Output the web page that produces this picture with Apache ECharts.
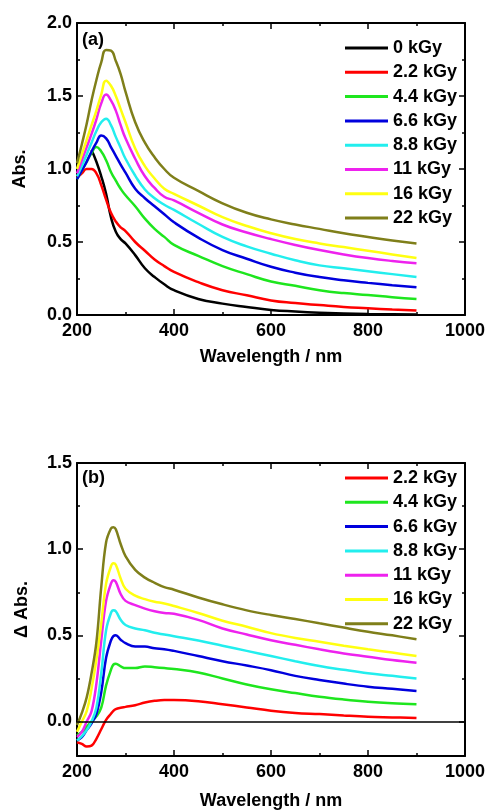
<!DOCTYPE html>
<html>
<head>
<meta charset="utf-8">
<script src="https://cdn.jsdelivr.net/npm/echarts@6/dist/echarts.min.js"></script>
<style>
  html, body { margin: 0; padding: 0; background: #fff; }
  #main { width: 488px; height: 812px; }
</style>
</head>
<body>
<div id="main"></div>
<script>
// wavelengths (nm)
var wlA = [200, 210, 220, 230, 240, 250, 260, 270, 280, 290, 300, 320, 340, 360, 380, 400, 450, 500, 550, 600, 650, 700, 750, 800, 850, 900];
var wlB = [200, 210, 220, 230, 240, 250, 260, 270, 275, 280, 290, 300, 320, 340, 360, 380, 400, 450, 500, 550, 600, 650, 700, 750, 800, 850, 900];

var namesA = ["0 kGy", "2.2 kGy", "4.4 kGy", "6.6 kGy", "8.8 kGy", "11 kGy", "16 kGy", "22 kGy"];
var namesB = ["2.2 kGy", "4.4 kGy", "6.6 kGy", "8.8 kGy", "11 kGy", "16 kGy", "22 kGy"];
var colors = ["#000000", "#ff0000", "#1ee61e", "#0000dd", "#22eeee", "#ee22ee", "#ffff11", "#7f7f1a"];

// (a) absorbance
var abs0  = [null, null, null, 1.13, 1.05, 0.95, 0.83, 0.67, 0.57, 0.52, 0.49, 0.41, 0.32, 0.26, 0.21, 0.17, 0.11, 0.078, 0.055, 0.035, 0.024, 0.016, 0.011, 0.007, 0.005, 0.003];
var abs22 = [0.94, 0.97, 1.0, 1.0, 0.97, 0.89, 0.79, 0.70, 0.64, 0.60, 0.575, 0.50, 0.44, 0.38, 0.335, 0.295, 0.225, 0.17, 0.135, 0.10, 0.082, 0.068, 0.055, 0.046, 0.037, 0.03];
var abs44 = [0.93, 0.99, 1.05, 1.11, 1.15, 1.12, 1.06, 0.98, 0.92, 0.865, 0.82, 0.745, 0.66, 0.59, 0.535, 0.48, 0.405, 0.335, 0.28, 0.23, 0.20, 0.17, 0.15, 0.137, 0.122, 0.11];
var abs66 = [0.93, 0.99, 1.05, 1.12, 1.18, 1.23, 1.21, 1.15, 1.09, 1.03, 0.975, 0.865, 0.80, 0.745, 0.69, 0.635, 0.53, 0.445, 0.385, 0.33, 0.29, 0.26, 0.238, 0.22, 0.204, 0.19];
var abs88 = [0.95, 1.02, 1.10, 1.18, 1.26, 1.32, 1.345, 1.30, 1.22, 1.145, 1.07, 0.955, 0.86, 0.80, 0.755, 0.72, 0.625, 0.535, 0.47, 0.42, 0.375, 0.34, 0.32, 0.30, 0.28, 0.26];
var abs11 = [0.97, 1.06, 1.15, 1.24, 1.34, 1.45, 1.51, 1.47, 1.40, 1.30, 1.21, 1.07, 0.95, 0.87, 0.81, 0.785, 0.70, 0.62, 0.565, 0.52, 0.48, 0.445, 0.415, 0.39, 0.37, 0.354];
var abs16 = [1.0, 1.10, 1.20, 1.30, 1.40, 1.51, 1.605, 1.57, 1.50, 1.41, 1.32, 1.14, 1.02, 0.935, 0.865, 0.83, 0.75, 0.67, 0.61, 0.56, 0.52, 0.49, 0.465, 0.44, 0.415, 0.39];
var abs220 = [1.04, 1.17, 1.31, 1.47, 1.61, 1.73, 1.815, 1.81, 1.74, 1.65, 1.53, 1.32, 1.18, 1.08, 1.0, 0.94, 0.85, 0.765, 0.70, 0.655, 0.62, 0.59, 0.56, 0.535, 0.51, 0.49];

// (b) delta absorbance
var dAbs22 = [-0.12, -0.13, -0.145, -0.14, -0.10, -0.045, 0.01, 0.045, 0.062, 0.072, 0.08, 0.085, 0.095, 0.11, 0.12, 0.125, 0.125, 0.118, 0.10, 0.082, 0.063, 0.05, 0.043, 0.035, 0.028, 0.024, 0.02];
var dAbs44 = [-0.08, -0.06, -0.03, 0.0, 0.03, 0.08, 0.21, 0.30, 0.33, 0.335, 0.32, 0.31, 0.31, 0.32, 0.315, 0.31, 0.305, 0.285, 0.25, 0.215, 0.187, 0.165, 0.144, 0.128, 0.115, 0.106, 0.10];
var dAbs66 = [-0.11, -0.09, -0.05, -0.01, 0.045, 0.17, 0.37, 0.47, 0.495, 0.50, 0.475, 0.455, 0.435, 0.435, 0.425, 0.42, 0.41, 0.38, 0.35, 0.325, 0.298, 0.265, 0.241, 0.22, 0.202, 0.19, 0.177];
var dAbs88 = [-0.11, -0.085, -0.05, 0.0, 0.08, 0.28, 0.53, 0.63, 0.645, 0.64, 0.59, 0.56, 0.54, 0.53, 0.515, 0.505, 0.495, 0.47, 0.44, 0.41, 0.38, 0.35, 0.322, 0.30, 0.28, 0.265, 0.25];
var dAbs11 = [-0.09, -0.06, 0.0, 0.06, 0.22, 0.47, 0.70, 0.80, 0.82, 0.81, 0.74, 0.70, 0.675, 0.655, 0.64, 0.63, 0.625, 0.59, 0.54, 0.505, 0.472, 0.445, 0.419, 0.395, 0.376, 0.357, 0.341];
var dAbs16 = [-0.06, 0.0, 0.06, 0.19, 0.36, 0.57, 0.80, 0.90, 0.918, 0.91, 0.83, 0.77, 0.73, 0.71, 0.695, 0.685, 0.67, 0.63, 0.585, 0.55, 0.513, 0.485, 0.463, 0.44, 0.419, 0.40, 0.38];
var dAbs220 = [-0.02, 0.05, 0.14, 0.28, 0.46, 0.78, 1.04, 1.12, 1.127, 1.115, 1.03, 0.96, 0.88, 0.835, 0.805, 0.78, 0.765, 0.72, 0.68, 0.645, 0.618, 0.595, 0.57, 0.545, 0.521, 0.50, 0.477];

var yTicksB = [0, 0.5, 1.0, 1.5];
var yMinorB = [0.25, 0.75, 1.25];

(function() {
  var myChart = echarts.init(document.getElementById("main"));
  var font = "'Liberation Sans', Arial, sans-serif";

  function pairs(wl, vals) {
    return wl.map(function(w, i) { return [w, vals[i]]; })
      .filter(function(p) { return p[1] !== null; });
  }

  var frame = { show: true, onZero: false, lineStyle: { color: "#000", width: 2 } };
  var tick = { show: true, inside: true, length: 6, lineStyle: { color: "#000", width: 1.5 } };
  var minor = { show: true, splitNumber: 2, length: 3, lineStyle: { color: "#000", width: 1.5 } };
  var label = { color: "#000", fontSize: 18, fontWeight: "bold", fontFamily: font };
  var nameStyle = { color: "#000", fontSize: 18, fontWeight: "bold", fontFamily: font };

  function xAxis(grid, pos, withLabel) {
    return {
      type: "value", gridIndex: grid, position: pos, min: 200, max: 1000, interval: 200,
      axisLine: frame, axisTick: tick, minorTick: minor, splitLine: { show: false },
      axisLabel: Object.assign({ show: withLabel, margin: 7, formatter: function(v) { return String(v); } }, label),
      name: withLabel ? "Wavelength / nm" : "", nameLocation: "middle",
      nameGap: grid === 0 ? 33 : 36, nameTextStyle: nameStyle
    };
  }

  var fmt = function(v) { return v.toFixed(1); };

  var yAxes = [
    {
      type: "value", gridIndex: 0, position: "left", min: 0, max: 2, interval: 0.5,
      axisLine: frame, axisTick: tick, minorTick: minor, splitLine: { show: false },
      axisLabel: Object.assign({ margin: 5, formatter: fmt }, label),
      name: "Abs.", nameLocation: "middle", nameGap: 48, nameTextStyle: nameStyle
    },
    {
      type: "value", gridIndex: 0, position: "right", min: 0, max: 2, interval: 0.5,
      axisLine: frame, axisTick: tick, minorTick: minor, splitLine: { show: false },
      axisLabel: { show: false }
    },
    {
      type: "value", gridIndex: 1, position: "left", min: -0.2, max: 1.5,
      axisLine: frame, axisTick: Object.assign({ customValues: yTicksB }, tick),
      splitLine: { show: false },
      axisLabel: Object.assign({ margin: 5, formatter: fmt, customValues: yTicksB }, label),
      name: "\u0394 Abs.", nameLocation: "middle", nameGap: 46, nameTextStyle: nameStyle
    },
    {
      type: "value", gridIndex: 1, position: "right", min: -0.2, max: 1.5,
      axisLine: frame, axisTick: Object.assign({ customValues: yTicksB }, tick),
      splitLine: { show: false }, axisLabel: { show: false }
    },
    {
      type: "value", gridIndex: 1, position: "left", min: -0.2, max: 1.5,
      axisLine: { show: false },
      axisTick: { show: true, inside: true, length: 3, customValues: yMinorB, lineStyle: { color: "#000", width: 1.5 } },
      splitLine: { show: false }, axisLabel: { show: false, customValues: yMinorB }
    },
    {
      type: "value", gridIndex: 1, position: "right", min: -0.2, max: 1.5,
      axisLine: { show: false },
      axisTick: { show: true, inside: true, length: 3, customValues: yMinorB, lineStyle: { color: "#000", width: 1.5 } },
      splitLine: { show: false }, axisLabel: { show: false, customValues: yMinorB }
    }
  ];

  var seriesA = [abs0, abs22, abs44, abs66, abs88, abs11, abs16, abs220];
  var seriesB = [dAbs22, dAbs44, dAbs66, dAbs88, dAbs11, dAbs16, dAbs220];

  var series = [];
  seriesA.forEach(function(vals, i) {
    series.push({
      name: namesA[i], type: "line", xAxisIndex: 0, yAxisIndex: 0,
      data: pairs(wlA, vals), showSymbol: false, smooth: 0.5,
      lineStyle: { width: 2.5, color: colors[i] }, itemStyle: { color: colors[i] }
    });
  });
  seriesB.forEach(function(vals, i) {
    var s = {
      name: namesB[i], type: "line", xAxisIndex: 2, yAxisIndex: 2,
      data: pairs(wlB, vals), showSymbol: false, smooth: 0.4,
      lineStyle: { width: 2.5, color: colors[i + 1] }, itemStyle: { color: colors[i + 1] }
    };
    if (i === 0) {
      // 零线
      s.markLine = {
        silent: true, symbol: "none", label: { show: false },
        lineStyle: { color: "#000", width: 1.5, type: "solid" },
        data: [{ yAxis: 0 }]
      };
    }
    series.push(s);
  });

  var legendBase = {
    orient: "vertical", left: 340, itemWidth: 43, itemHeight: 3, itemGap: 6.3,
    icon: "rect", selectedMode: false,
    textStyle: { color: "#000", fontSize: 18, fontWeight: "bold", fontFamily: font, lineHeight: 18 }
  };

  var option = {
    animation: false,
    backgroundColor: "#fff",
    grid: [
      { left: 77, top: 23, width: 388, height: 292 },
      { left: 77, top: 463, width: 388, height: 293 }
    ],
    legend: [
      Object.assign({ top: 34, data: namesA }, legendBase),
      Object.assign({ top: 464, data: namesB }, legendBase)
    ],
    xAxis: [xAxis(0, "bottom", true), xAxis(0, "top", false), xAxis(1, "bottom", true), xAxis(1, "top", false)],
    yAxis: yAxes,
    graphic: [
      { type: "text", left: 82, top: 31, style: { text: "(a)", font: "bold 18px " + font, fill: "#000" } },
      { type: "text", left: 82, top: 469, style: { text: "(b)", font: "bold 18px " + font, fill: "#000" } }
    ],
    series: series
  };

  myChart.setOption(option);
  window.addEventListener("resize", function() {
    myChart.resize();
  });
})();
</script>
</body>
</html>
